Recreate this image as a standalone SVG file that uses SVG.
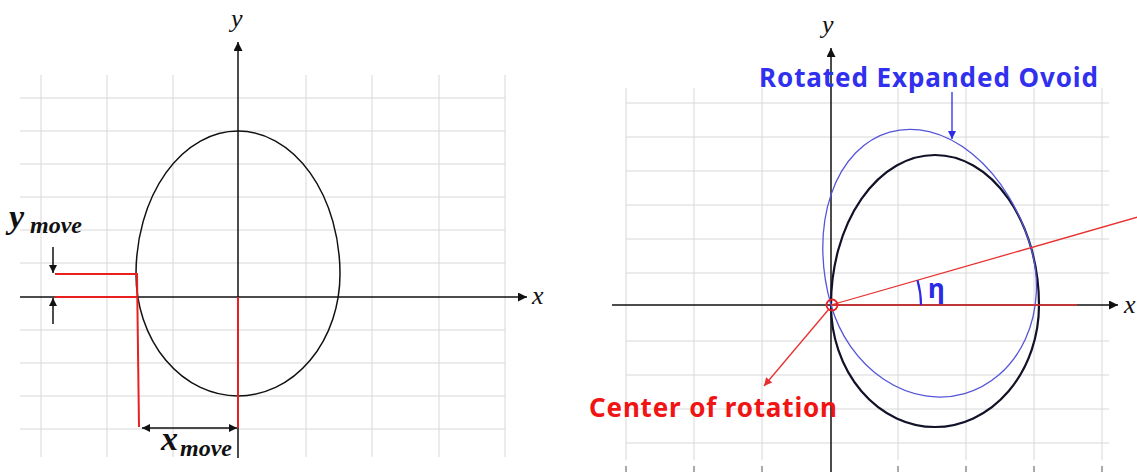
<svg xmlns="http://www.w3.org/2000/svg" width="1137" height="472" viewBox="0 0 1137 472">
<style>
.grid{stroke:#d8d8d8;stroke-width:1;fill:none}
.tick{stroke:#555;stroke-width:1}
.axis{stroke:#111;stroke-width:1.5;fill:none}
.red{stroke:#e82020;stroke-width:2;fill:none}
.redt{stroke:#e83030;stroke-width:1.3;fill:none}
.egg{stroke:#111;stroke-width:1.5;fill:none}
.egg2{stroke:#111128;stroke-width:2.2;fill:none}
.blue{stroke:#5555d8;stroke-width:1.3;fill:none}
.ax{font-family:"Liberation Serif",serif;font-style:italic;font-size:26px;fill:#111}
.mvb{font-family:"Liberation Serif",serif;font-style:italic;font-weight:bold;font-size:34px;fill:#111}
.mv{font-family:"Liberation Serif",serif;font-style:italic;font-weight:bold;font-size:24px;fill:#111}
.lbl{font-family:"Noto Sans",sans-serif;font-weight:bold;font-size:26px}
</style>
<defs>
<marker id="ak" viewBox="0 0 10 10" refX="10" refY="5" markerWidth="11" markerHeight="9" markerUnits="userSpaceOnUse" orient="auto-start-reverse"><path d="M0,0 L10,5 L0,10 z" fill="#111"/></marker>
<marker id="aks" viewBox="0 0 10 10" refX="10" refY="5" markerWidth="9" markerHeight="8" markerUnits="userSpaceOnUse" orient="auto-start-reverse"><path d="M0,0 L10,5 L0,10 z" fill="#111"/></marker>
<marker id="ar" viewBox="0 0 10 10" refX="10" refY="5" markerWidth="10" markerHeight="8" markerUnits="userSpaceOnUse" orient="auto"><path d="M0,0 L10,5 L0,10 z" fill="#e83030"/></marker>
<marker id="ab" viewBox="0 0 10 10" refX="10" refY="5" markerWidth="10" markerHeight="8" markerUnits="userSpaceOnUse" orient="auto"><path d="M0,0 L10,5 L0,10 z" fill="#2a2ae8"/></marker>
<path id="egg2" d="M831,305 A104 150 0 0 1 1039,305 A104 122 0 0 1 831,305 Z"/>
</defs>
<rect width="1137" height="472" fill="#fff"/>

<!-- LEFT PANEL -->
<g id="left-grid" class="grid">
<path d="M20,98H505M20,131H505M20,164H505M20,197H505M20,230H505M20,263H505M20,330H505M20,363H505M20,396H505M20,429H505"/>
<path d="M41,75V457M107,75V457M173,75V457M306,75V457M372,75V457M439,75V457M505,75V457"/>
</g>
<g id="left-axes">
<line class="axis" x1="238" y1="458" x2="238" y2="42" marker-end="url(#ak)"/>
<line class="axis" x1="20" y1="297" x2="527" y2="297" marker-end="url(#ak)"/>
<text class="ax" x="231" y="27">y</text>
<text class="ax" x="532" y="304">x</text>
</g>
<g id="left-egg">
<path class="egg" d="M136,274 A102 143 0 0 1 340,274 A102 122 0 0 1 136,274 Z"/>
</g>
<g id="left-connectors">
<path class="red" d="M55,274H137L139,427"/>
<path class="red" d="M55,297H136"/>
<path class="red" d="M238,297V428"/>
<line class="axis" x1="53" y1="247" x2="53" y2="273" marker-end="url(#aks)"/>
<line class="axis" x1="53" y1="324" x2="53" y2="298" marker-end="url(#aks)"/>
<line class="axis" x1="142" y1="428" x2="237" y2="428" marker-start="url(#aks)" marker-end="url(#aks)"/>
</g>
<g id="ymove-label">
<text class="mvb" x="9" y="228">y</text>
<text class="mv" x="30" y="233">move</text>
</g>
<g id="xmove-label">
<text class="mvb" x="161" y="450">x</text>
<text class="mv" x="180" y="456">move</text>
</g>

<!-- RIGHT PANEL -->
<g id="right-grid" class="grid">
<path d="M626,103H1109M626,137H1109M626,171H1109M626,205H1109M626,239H1109M626,273H1109M626,341H1109M626,375H1109M626,409H1109M626,443H1109"/>
<path d="M626,88V460M694,88V460M762,88V460M898,88V460M966,88V460M1034,88V460M1102,88V460"/>
</g>
<g id="right-ticks" class="tick">
<path d="M626,466V472M694,466V472M762,466V472M898,466V472M966,466V472M1034,466V472M1102,466V472"/>
</g>
<g id="right-axes">
<line class="axis" x1="831" y1="472" x2="831" y2="48" marker-end="url(#ak)"/>
<line class="axis" x1="612" y1="305" x2="1118" y2="305" marker-end="url(#ak)"/>
<text class="ax" x="822" y="33">y</text>
<text class="ax" x="1124" y="313">x</text>
</g>
<g id="ovoid">
<use href="#egg2" class="egg2"/>
</g>
<g id="rotated-ovoid">
<use href="#egg2" class="blue" transform="rotate(-16 831 305)"/>
</g>
<g id="right-connectors">
<line class="redt" x1="831" y1="305" x2="1077" y2="305"/>
<line class="redt" x1="831" y1="305" x2="1140" y2="216.4"/>
<circle cx="832" cy="305" r="5.5" fill="none" stroke="#e82020" stroke-width="1.8"/>
<line class="redt" x1="829" y1="309" x2="764" y2="386" marker-end="url(#ar)"/>
<line x1="952" y1="92" x2="952" y2="139" stroke="#2a2ae8" stroke-width="1.3" marker-end="url(#ab)"/>
<path d="M921,305 A90 90 0 0 0 917.5,280.2" stroke="#2a2ae8" stroke-width="2.2" fill="none"/>
</g>
<g id="eta-label">
<text class="lbl" x="928" y="298" fill="#2a2ae8" font-size="24">η</text>
</g>
<g id="ovoid-label">
<text class="lbl" x="759" y="87" fill="#3030ee" textLength="339">Rotated Expanded Ovoid</text>
</g>
<g id="center-label">
<text class="lbl" x="589" y="417" fill="#f01414" font-size="27" textLength="248">Center of rotation</text>
</g>
</svg>
